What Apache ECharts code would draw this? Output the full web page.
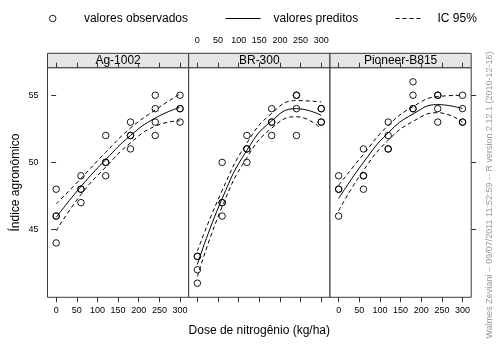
<!DOCTYPE html>
<html>
<head>
<meta charset="utf-8">
<script src="https://cdn.jsdelivr.net/npm/echarts@6/dist/echarts.min.js"></script>
<style>html,body{margin:0;padding:0;background:#fff}#c{width:500px;height:350px}</style>
</head>
<body>
<div id="c"></div>
<script>
// ---- data ----
const cultivars = ['Ag-1002', 'BR-300', 'Pioneer-B815'];
const doses = [0, 60, 120, 180, 240, 300];
// observed values: 4 replicates per dose
const obsAg = [[48, 46, 46, 44], [49, 48, 48, 47], [52, 50, 50, 49], [53, 52, 52, 51], [55, 54, 53, 52], [55, 54, 54, 53]];
const obsBR = [[43, 43, 42, 41], [50, 47, 47, 46], [52, 51, 51, 50], [54, 53, 53, 52], [55, 55, 54, 52], [54, 54, 53, 53]];
const obsPi = [[49, 48, 48, 46], [51, 49, 49, 48], [53, 52, 51, 51], [56, 55, 54, 54], [55, 55, 54, 53], [55, 54, 53, 53]];
// predicted curve and 95% CI read at the doses
const predAg = [45.9, 48.2, 50.2, 52.0, 53.3, 54.1];
const upperAg = [46.9, 48.8, 50.75, 52.55, 53.9, 55.1];
const lowerAg = [44.9, 47.6, 49.65, 51.45, 52.7, 53.1];
const predBR = [42.4, 47.3, 50.9, 53.1, 54.0, 53.5];
const upperBR = [43.4, 47.9, 51.45, 53.65, 54.6, 54.5];
const lowerBR = [41.5, 46.7, 50.35, 52.55, 53.4, 52.5];
const predPi = [47.3, 50.0, 52.2, 53.6, 54.3, 54.0];
const upperPi = [48.3, 50.6, 52.75, 54.15, 54.9, 55.0];
const lowerPi = [46.4, 49.4, 51.65, 53.05, 53.7, 53.0];
const xTicks = [0, 50, 100, 150, 200, 250, 300];
const yTicks = [45, 50, 55];
const legendNames = ['valores observados', 'valores preditos', 'IC 95%'];
const xTitle = 'Dose de nitrogênio (kg/ha)';
const yTitle = 'Índice agronômico';
const watermark = 'Walmes Zeviani -- 09/07/2011 11:52:59 -- R version 2.12.1 (2010-12-16)';

// ---- layout ----
const FONT = 'Liberation Sans, Arial, Helvetica, sans-serif';
const panelLeft = [47.5, 188.7, 330];
const panelW = 141.2;
const plotTop = 67.7, plotH = 229.6;
const stripTop = 53.3, stripH = 14.4;
const xMin = -21, xMax = 321, yMin = 39.95, yMax = 57.05;
const BORDER = '#3a3a3a';

const obs = [obsAg, obsBR, obsPi];
const pred = [predAg, predBR, predPi];
const upper = [upperAg, upperBR, upperPi];
const lower = [lowerAg, lowerBR, lowerPi];

const grid = [], xAxis = [], yAxis = [], series = [], graphic = [];
for (let i = 0; i < 3; i++) {
  grid.push({left: panelLeft[i], top: plotTop, width: panelW, height: plotH, show: true,
    borderColor: BORDER, borderWidth: 1, backgroundColor: '#fff'});
}
for (let i = 0; i < 3; i++) {
  grid.push({left: panelLeft[i], top: stripTop, width: panelW, height: stripH, show: true,
    borderColor: BORDER, borderWidth: 1, backgroundColor: '#e6e6e6'});
}
const tickStyle = {lineStyle: {color: '#333', width: 1}};
for (let i = 0; i < 3; i++) {
  xAxis.push({
    type: 'value', gridIndex: i, position: 'bottom', min: xMin, max: xMax,
    axisLine: {show: false}, splitLine: {show: false},
    axisTick: Object.assign({show: true, inside: false, length: 5, customValues: xTicks}, tickStyle),
    axisLabel: {show: i !== 1, customValues: xTicks, margin: 9, fontSize: 9, color: '#000', fontFamily: FONT},
    name: i === 1 ? xTitle : '', nameLocation: 'middle', nameGap: 27,
    nameTextStyle: {fontSize: 12, color: '#000', fontFamily: FONT}
  });
}
for (let i = 0; i < 3; i++) {
  xAxis.push({
    type: 'value', gridIndex: 3 + i, position: 'top', min: xMin, max: xMax,
    axisLine: {show: false}, splitLine: {show: false},
    axisTick: Object.assign({show: true, inside: false, length: 5, customValues: xTicks}, tickStyle),
    axisLabel: {show: i === 1, customValues: xTicks, margin: 8, fontSize: 9, color: '#000', fontFamily: FONT}
  });
}
for (let i = 0; i < 3; i++) {
  yAxis.push({
    type: 'value', gridIndex: i, position: 'left', min: yMin, max: yMax,
    axisLine: {show: false}, splitLine: {show: false},
    axisTick: Object.assign({show: i === 0, inside: false, length: 5, customValues: yTicks}, tickStyle),
    axisLabel: {show: i === 0, customValues: yTicks, margin: 9, fontSize: 9, color: '#000', fontFamily: FONT},
    name: i === 0 ? yTitle : '', nameLocation: 'middle', nameRotate: 90, nameGap: 26,
    nameTextStyle: {fontSize: 12, color: '#000', fontFamily: FONT}
  });
}
for (let i = 0; i < 3; i++) {
  yAxis.push({type: 'value', gridIndex: 3 + i, min: 0, max: 1, show: false});
}
yAxis.push({
  type: 'value', gridIndex: 2, position: 'right', min: yMin, max: yMax,
  axisLine: {show: false}, splitLine: {show: false},
  axisTick: Object.assign({show: true, inside: false, length: 5, customValues: yTicks}, tickStyle),
  axisLabel: {show: false}
});

const dash = [4, 3];
for (let i = 0; i < 3; i++) {
  const pts = [];
  doses.forEach((d, k) => obs[i][k].forEach(v => pts.push([d, v])));
  series.push({
    name: legendNames[0], type: 'scatter', xAxisIndex: i, yAxisIndex: i, data: pts,
    symbol: 'circle', symbolSize: 6.5, z: 5,
    itemStyle: {color: 'rgba(0,0,0,0)', borderColor: '#000', borderWidth: 0.9, opacity: 1},
    emphasis: {disabled: true}
  });
  series.push({
    name: legendNames[1], type: 'line', xAxisIndex: i, yAxisIndex: i, smooth: true,
    data: doses.map((d, k) => [d, pred[i][k]]), symbol: 'none',
    lineStyle: {color: '#000', width: 1}, itemStyle: {color: '#000'}
  });
  series.push({
    name: legendNames[2], type: 'line', xAxisIndex: i, yAxisIndex: i, smooth: true,
    data: doses.map((d, k) => [d, upper[i][k]]), symbol: 'none',
    lineStyle: {color: '#000', width: 1, type: dash}, itemStyle: {color: '#000'}
  });
  series.push({
    name: legendNames[2], type: 'line', xAxisIndex: i, yAxisIndex: i, smooth: true,
    data: doses.map((d, k) => [d, lower[i][k]]), symbol: 'none',
    lineStyle: {color: '#000', width: 1, type: dash}, itemStyle: {color: '#000'}
  });
  graphic.push({
    type: 'text', x: panelLeft[i] + panelW / 2, y: stripTop + stripH / 2 + 0.5,
    style: {text: cultivars[i], fill: '#000', fontSize: 12, fontFamily: FONT, align: 'center', verticalAlign: 'middle'}
  });
}
graphic.push({
  type: 'text', x: 490, y: 195, rotation: Math.PI / 2,
  style: {text: watermark, fill: '#9a9a9a', fontSize: 9, fontFamily: FONT, align: 'center', verticalAlign: 'middle'}
});

const legTxt = {fontSize: 12, color: '#000', fontFamily: FONT};
const noSym = {color: 'rgba(0,0,0,0)', borderColor: 'rgba(0,0,0,0)', borderWidth: 0, opacity: 0};
const legend = [
  {data: [{name: legendNames[0], icon: 'circle', itemStyle: {color: 'rgba(0,0,0,0)', borderColor: '#000', borderWidth: 0.9}}],
   left: 49, top: 12.5, itemWidth: 6.5, itemHeight: 6.5, padding: 0, selectedMode: false,
   textStyle: Object.assign({padding: [0, 0, 0, 23]}, legTxt)},
  {data: [{name: legendNames[1], lineStyle: {color: '#000', width: 1, type: 'solid'}, itemStyle: noSym}],
   left: 225, top: 12.5, itemWidth: 35, itemHeight: 12, padding: 0, selectedMode: false,
   textStyle: Object.assign({padding: [0, 0, 0, 8]}, legTxt)},
  {data: [{name: legendNames[2], lineStyle: {color: '#000', width: 1, type: dash}, itemStyle: noSym}],
   left: 395, top: 12.5, itemWidth: 27, itemHeight: 12, padding: 0, selectedMode: false,
   textStyle: Object.assign({padding: [0, 0, 0, 10]}, legTxt)}
];

const chart = echarts.init(document.getElementById('c'), null, {renderer: 'canvas'});
chart.setOption({
  animation: false,
  backgroundColor: '#fff',
  textStyle: {fontFamily: FONT},
  grid, xAxis, yAxis, series, legend, graphic
});
</script>
</body>
</html>
